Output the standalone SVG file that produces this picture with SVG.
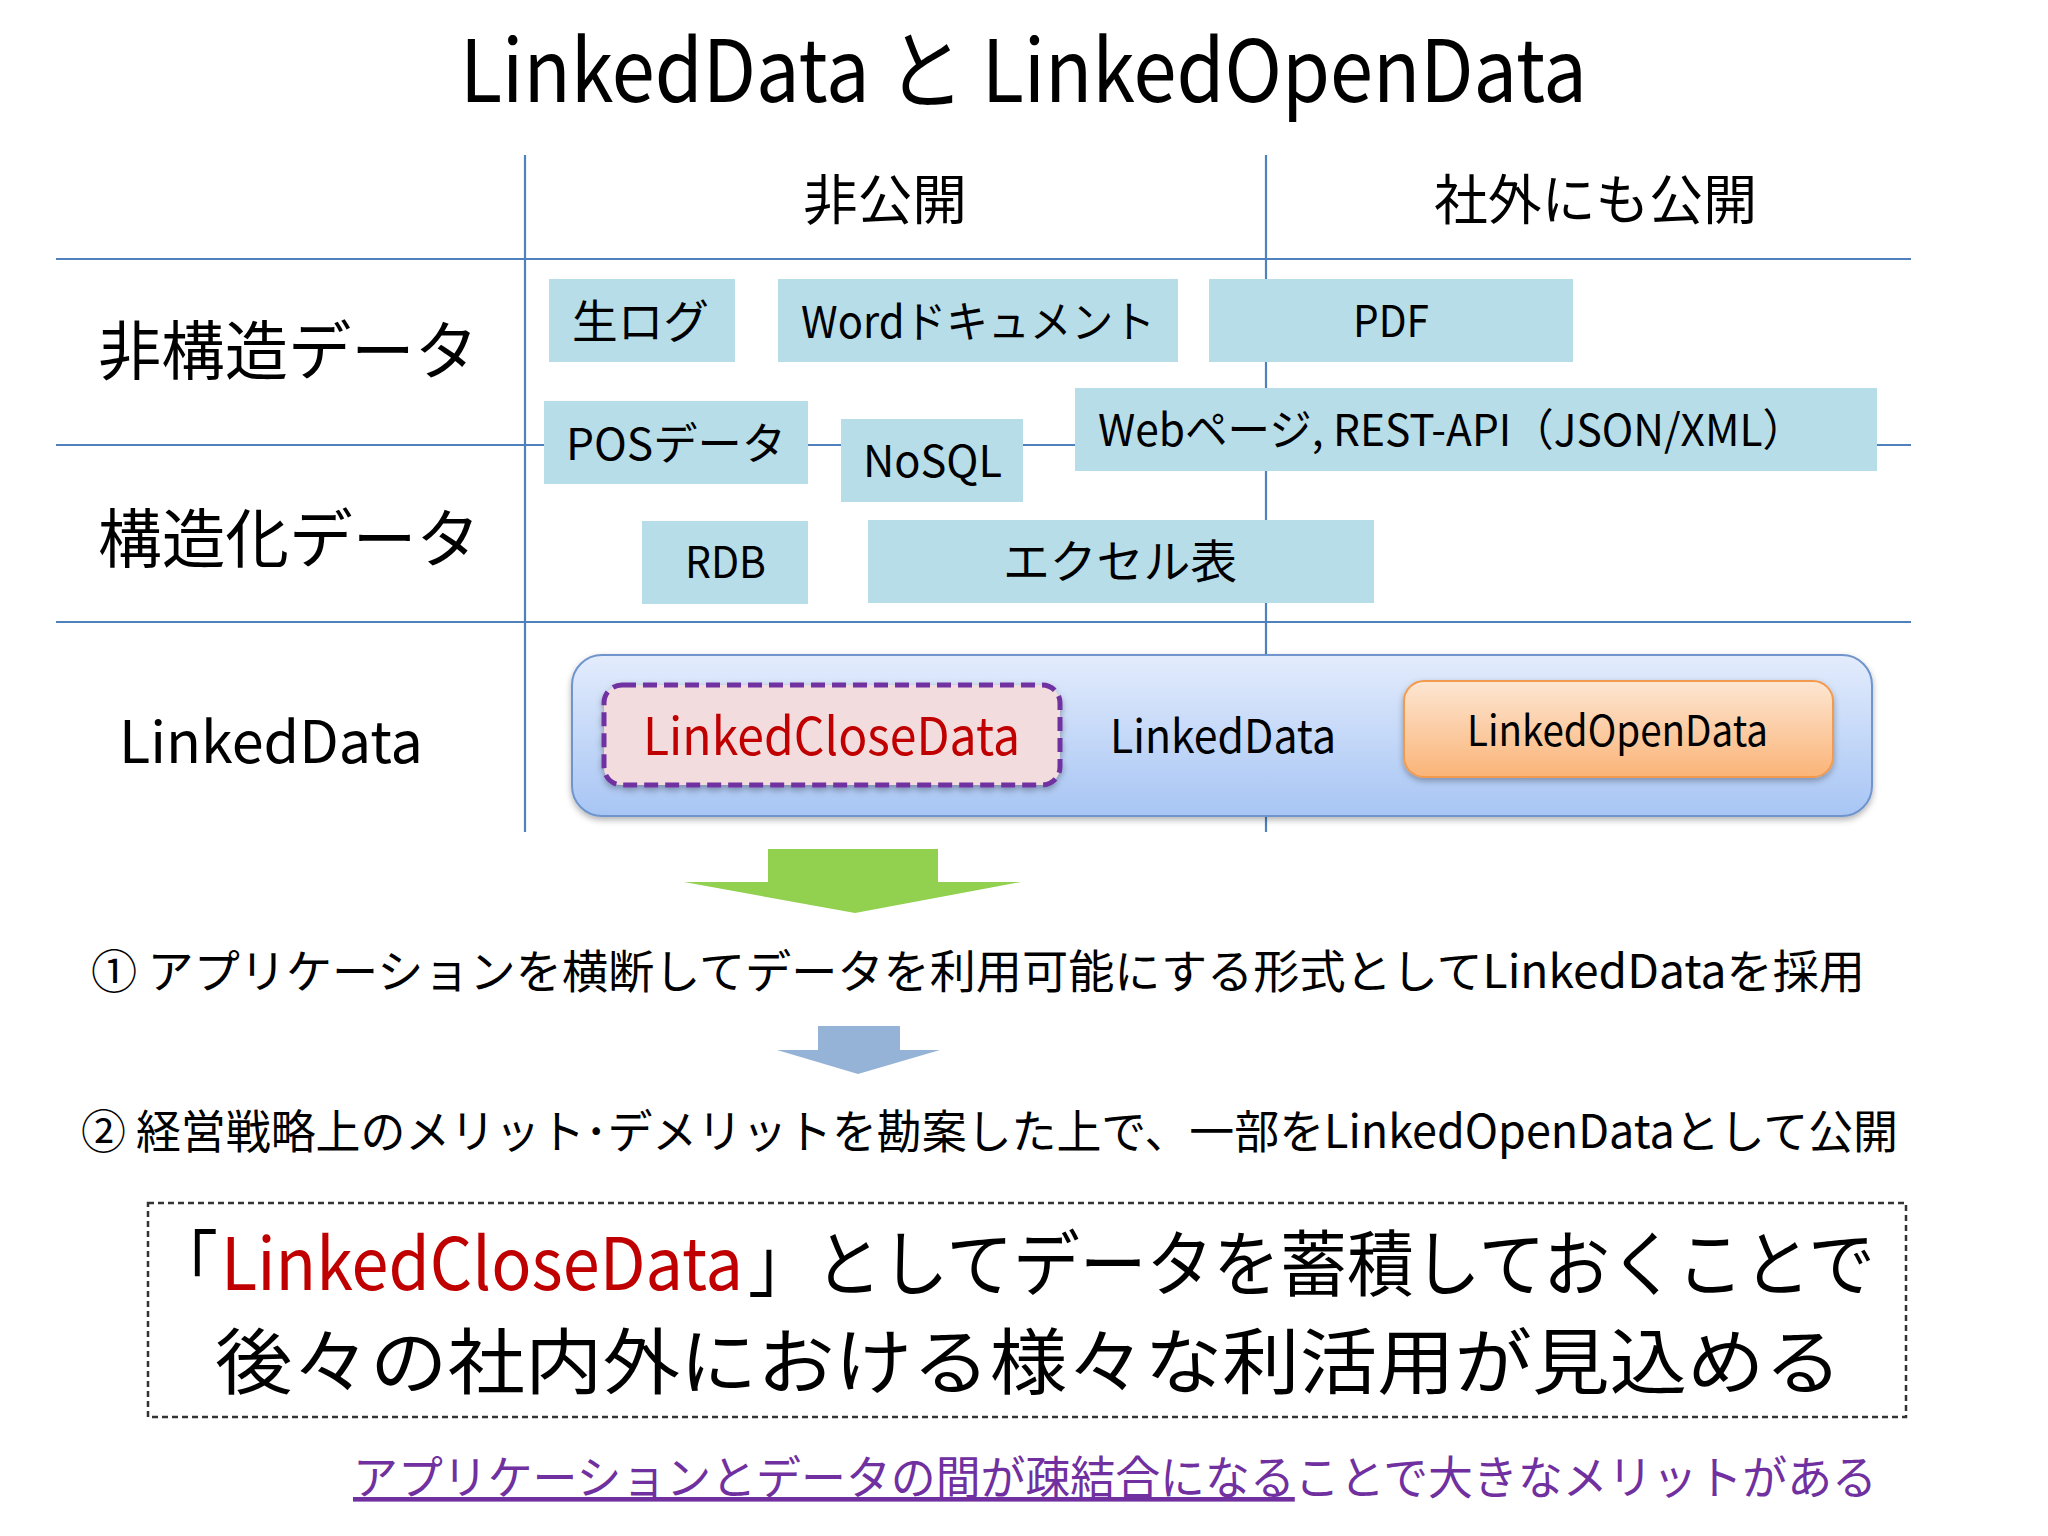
<svg xmlns="http://www.w3.org/2000/svg" width="2048" height="1536" viewBox="0 0 2048 1536">
<defs>
<style>
text{font-family:"Noto Sans CJK JP","Noto Sans",sans-serif;fill:#000}
.grid{stroke:#4f81bd;stroke-width:2.2;fill:none}
.cell{fill:#b7dde8}
.t44{font-size:44px}
.hdr{font-size:54px}
.row{font-size:64px}
</style>
<linearGradient id="gLD" x1="0" y1="0" x2="0" y2="1">
<stop offset="0" stop-color="#e3ecfc"/>
<stop offset="1" stop-color="#a7c5f4"/>
</linearGradient>
<linearGradient id="gLOD" x1="0" y1="0" x2="0" y2="1">
<stop offset="0" stop-color="#fde6d2"/>
<stop offset="1" stop-color="#fab478"/>
</linearGradient>
<filter id="sh" x="-5%" y="-10%" width="110%" height="130%">
<feDropShadow dx="0" dy="3" stdDeviation="3" flood-color="#000" flood-opacity="0.3"/>
</filter>
</defs>
<rect width="2048" height="1536" fill="#fff"/>

<text x="460" y="102" font-size="86" textLength="1127" lengthAdjust="spacingAndGlyphs">LinkedData と LinkedOpenData</text>

<g id="grid">
<line class="grid" x1="56" y1="259" x2="1911" y2="259"/>
<line class="grid" x1="56" y1="445" x2="1911" y2="445"/>
<line class="grid" x1="56" y1="622" x2="1911" y2="622"/>
<line class="grid" x1="525" y1="155" x2="525" y2="832"/>
<line class="grid" x1="1266" y1="155" x2="1266" y2="832"/>
<text class="hdr" x="803" y="220" textLength="164" lengthAdjust="spacingAndGlyphs">非公開</text>
<text class="hdr" x="1434" y="220" textLength="323" lengthAdjust="spacingAndGlyphs">社外にも公開</text>
<text class="row" x="98" y="374" textLength="380" lengthAdjust="spacingAndGlyphs">非構造データ</text>
<text class="row" x="98" y="562" textLength="382" lengthAdjust="spacingAndGlyphs">構造化データ</text>
<text x="119" y="763" font-size="58" textLength="304" lengthAdjust="spacingAndGlyphs">LinkedData</text>
</g>

<g id="n-namalog"><rect class="cell" x="549" y="279" width="186" height="83"/><text x="572" y="338" font-size="46" textLength="137" lengthAdjust="spacingAndGlyphs">生ログ</text></g>
<g id="n-word"><rect class="cell" x="778" y="279" width="400" height="83"/><text class="t44" x="801" y="338" textLength="354" lengthAdjust="spacingAndGlyphs">Wordドキュメント</text></g>
<g id="n-pdf"><rect class="cell" x="1209" y="279" width="364" height="83"/><text class="t44" x="1353" y="337" textLength="76" lengthAdjust="spacingAndGlyphs">PDF</text></g>
<g id="n-pos"><rect class="cell" x="544" y="401" width="264" height="83"/><text class="t44" x="566" y="460" textLength="220" lengthAdjust="spacingAndGlyphs">POSデータ</text></g>
<g id="n-nosql"><rect class="cell" x="841" y="419" width="182" height="83"/><text class="t44" x="863" y="477" textLength="139" lengthAdjust="spacingAndGlyphs">NoSQL</text></g>
<g id="n-web"><rect class="cell" x="1075" y="388" width="802" height="83"/><text class="t44" x="1098" y="446" textLength="707" lengthAdjust="spacingAndGlyphs">Webページ, REST-API（JSON/XML）</text></g>
<g id="n-rdb"><rect class="cell" x="642" y="521" width="166" height="83"/><text class="t44" x="685" y="578" textLength="81" lengthAdjust="spacingAndGlyphs">RDB</text></g>
<g id="n-excel"><rect class="cell" x="868" y="520" width="506" height="83"/><text x="1003" y="578" font-size="46" textLength="234" lengthAdjust="spacingAndGlyphs">エクセル表</text></g>

<g id="n-linkeddata">
<rect x="572" y="655" width="1300" height="161" rx="30" fill="url(#gLD)" stroke="#6f94cc" stroke-width="2" filter="url(#sh)"/>
<text x="1110" y="753" font-size="46" textLength="226" lengthAdjust="spacingAndGlyphs">LinkedData</text>
</g>
<g id="n-lcd">
<rect x="604" y="685" width="456" height="100" rx="18" fill="#f3dcdd" stroke="#7030a0" stroke-width="5" stroke-dasharray="14,7" filter="url(#sh)"/>
<text x="643" y="755" font-size="52" style="fill:#c00000" textLength="377" lengthAdjust="spacingAndGlyphs">LinkedCloseData</text>
</g>
<g id="n-lod">
<rect x="1404" y="681" width="429" height="96" rx="20" fill="url(#gLOD)" stroke="#f29a4e" stroke-width="2" filter="url(#sh)"/>
<text x="1467" y="746" font-size="42" textLength="301" lengthAdjust="spacingAndGlyphs">LinkedOpenData</text>
</g>

<g id="connectors">
<polygon points="768,849 938,849 938,882 1021,882 855,913 684,882 768,882" fill="#92d050"/>
<polygon points="818,1026 900,1026 900,1050 940,1050 858,1074 777,1050 818,1050" fill="#95b3d7"/>
</g>

<g id="step1"><text x="91" y="988" font-size="46" textLength="1774" lengthAdjust="spacingAndGlyphs">① アプリケーションを横断してデータを利用可能にする形式としてLinkedDataを採用</text></g>
<g id="step2"><text x="81" y="1148" font-size="46" textLength="1817" lengthAdjust="spacingAndGlyphs">② 経営戦略上のメリット･デメリットを勘案した上で、一部をLinkedOpenDataとして公開</text></g>

<g id="conclusion">
<rect x="148" y="1203" width="1758" height="214" fill="none" stroke="#333" stroke-width="2.5" stroke-dasharray="6,4"/>
<text y="1290" font-size="72"><tspan x="152" textLength="66" lengthAdjust="spacingAndGlyphs">「</tspan><tspan x="221" style="fill:#c00000" textLength="522" lengthAdjust="spacingAndGlyphs">LinkedCloseData</tspan><tspan x="748" textLength="1127" lengthAdjust="spacingAndGlyphs">」としてデータを蓄積しておくことで</tspan></text>
<text x="215" y="1388" font-size="72" textLength="1627" lengthAdjust="spacingAndGlyphs">後々の社内外における様々な利活用が見込める</text>
</g>

<g id="note"><text x="353" y="1494" font-size="46" style="fill:#7030a0" textLength="1524" lengthAdjust="spacingAndGlyphs"><tspan text-decoration="underline">アプリケーションとデータの間が疎結合になる</tspan>ことで大きなメリットがある</text></g>
</svg>
